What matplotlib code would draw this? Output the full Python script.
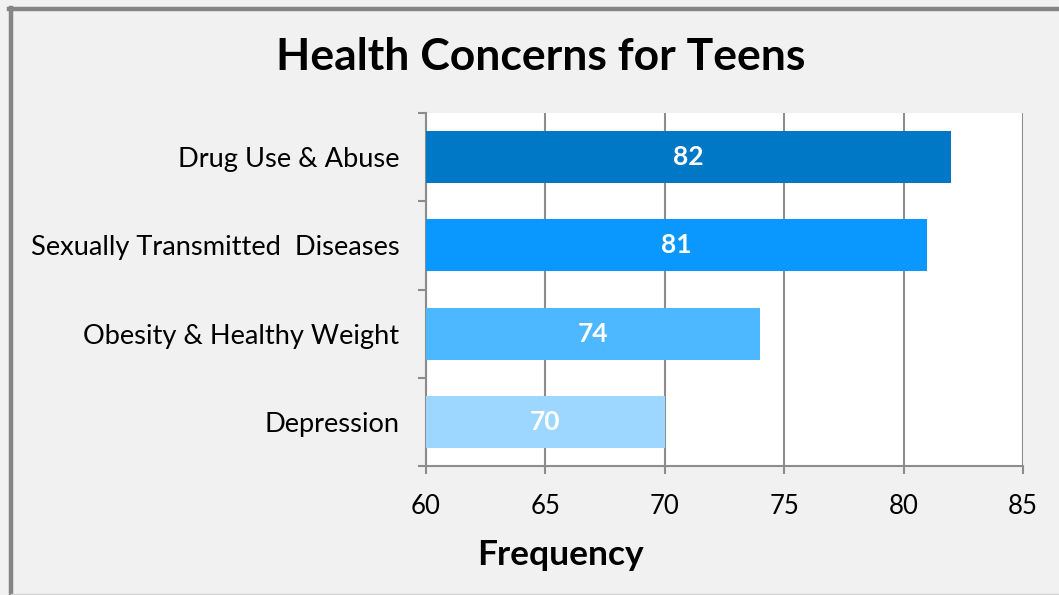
import matplotlib
matplotlib.use("Agg")
import matplotlib.pyplot as plt
from matplotlib.lines import Line2D

categories = ["Drug Use & Abuse", "Sexually Transmitted  Diseases", "Obesity & Healthy Weight", "Depression"]
values = [82, 81, 74, 70]
colors = ["#0078C6", "#0A98FF", "#4DB8FF", "#9DD7FF"]
xticks = [60, 65, 70, 75, 80, 85]

plt.rcParams['font.family'] = ['Lato', 'DejaVu Sans']

fig = plt.figure(figsize=(10.59, 5.95), dpi=100, facecolor="#F1F1F1")
ax = fig.add_axes([426/1059, 129/595, 597/1059, 353/595])
ax.set_facecolor("white")

ypos = list(range(len(categories)))[::-1]
ax.barh(ypos, [v - 60 for v in values], left=60, height=0.59, color=colors, zorder=3)
for y, v in zip(ypos, values):
    ax.text(60 + (v - 60) / 2, y, str(v), ha="center", va="center", color="white",
            fontsize=19, fontweight="bold", zorder=4)

ax.set_xlim(60, 85)
ax.set_ylim(-0.5, 3.5)
ax.set_xticks(xticks)
ax.set_xticklabels([str(t) for t in xticks], fontsize=18.5)
ax.set_yticks(ypos)
ax.set_yticklabels(categories, fontsize=19.6)
ax.set_yticks([-0.5, 0.5, 1.5, 2.5, 3.5], minor=True)
ax.tick_params(axis="y", which="major", length=0, pad=19)
ax.tick_params(axis="y", which="minor", length=6, width=1.5, color="#8C8C8C", direction="out")
ax.tick_params(axis="x", length=6, width=1.5, color="#8C8C8C", direction="out", pad=14)
ax.grid(axis="x", color="#8C8C8C", linewidth=1.5, zorder=1)
for s in ["top", "right"]:
    ax.spines[s].set_visible(False)
for s in ["left", "bottom"]:
    ax.spines[s].set_color("#8C8C8C")
    ax.spines[s].set_linewidth(1.5)

fig.text(560/1059, 1 - 555/595, "Frequency", ha="center", va="center",
         fontsize=25.5, fontweight="bold")
fig.text(541/1059, 1 - 57/595, "Health Concerns for Teens", ha="center", va="center",
         fontsize=32, fontweight="bold")

# chart border
fig.add_artist(Line2D([11/1059, 11/1059], [0, 1 - 8/595], transform=fig.transFigure,
                      color="#858585", linewidth=3.2))
fig.add_artist(Line2D([9/1059, 1], [1 - 9/595, 1 - 9/595], transform=fig.transFigure,
                      color="#858585", linewidth=3.2))
fig.add_artist(Line2D([11/1059, 1], [1.5/595, 1.5/595], transform=fig.transFigure,
                      color="#D4D4D4", linewidth=1))

fig.savefig("out.png", dpi=100, facecolor=fig.get_facecolor())
